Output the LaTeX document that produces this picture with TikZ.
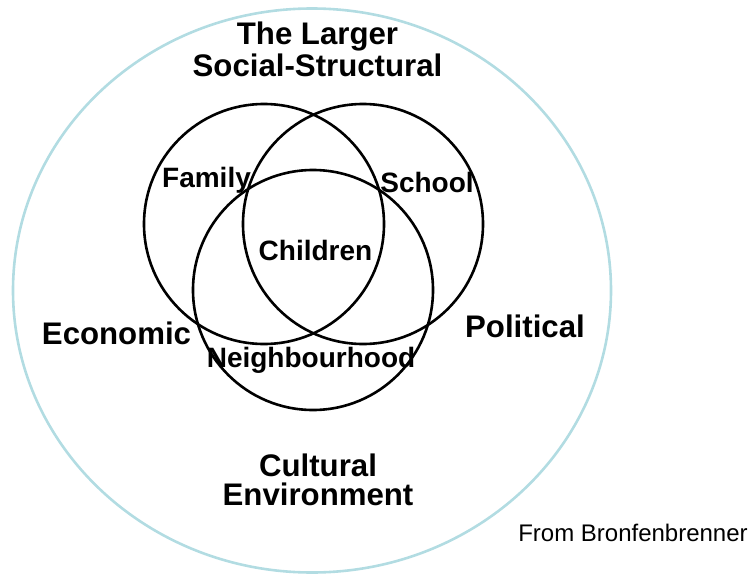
\documentclass[tikz,border=0pt]{standalone}
\usepackage{fontspec}
\setmainfont{Liberation Sans}
\definecolor{paleblue}{RGB}{178,220,226}
\tikzset{
        ring/.style={line width=1.3pt, draw=black}, % the three overlapping circles
        society/.style={line width=1.3pt, draw=paleblue}, % the big outer ellipse
        outer/.style={font=\bfseries\fontsize{15.6}{14.5}\selectfont, align=center, anchor=base}, % labels outside the circles
        inner/.style={font=\bfseries\fontsize{14}{14}\selectfont, anchor=base}, % labels inside the circles
    }

\begin{document}
\begin{tikzpicture}[x=0.5pt, y=0.5pt]
    \useasboundingbox (0,0) rectangle (750,575);
    % centres of the circles
    \coordinate (society) at (312,284.5);
    \coordinate (family) at (264,351);
    \coordinate (school) at (363,351);
    \coordinate (hood) at (313,285);
    \draw[society] (society) ellipse [x radius=299, y radius=282];
    \draw[ring] (family) circle (120);
    \draw[ring] (school) circle (120);
    \draw[ring] (hood) circle (120);
    % labels (base sits on the last line)
    \node[outer] (larger) at (317.5,499) {The Larger\\Social-Structural};
    \node[outer] (economic) at (116.5,231) {Economic};
    \node[outer] (political) at (525,238) {Political};
    \node[outer] (cultural) at (318,70) {Cultural\\Environment};
    \node[inner] (familylabel) at (206.5,388) {Family};
    \node[inner] (schoollabel) at (427,382.5) {School};
    \node[inner] (children) at (315.5,315) {Children};
    \node[inner] (hoodlabel) at (311,208) {Neighbourhood};
    \node[anchor=base, font=\fontsize{12}{12}\selectfont] (source) at (633,34) {From Bronfenbrenner};
  \end{tikzpicture}
\end{document}
